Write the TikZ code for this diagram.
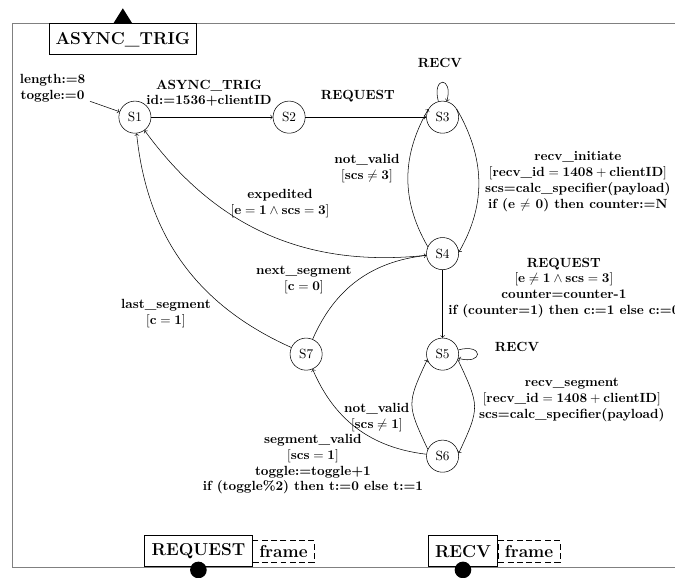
\documentclass[tikz,border=0pt]{standalone}
\begin{document}
\begin{tikzpicture}[
  state/.style={circle,draw,minimum size=0.85cm,inner sep=0pt},
  lbl/.style={font=\bfseries,align=center},
  port/.style={draw,semithick,font=\fontsize{13}{15}\selectfont\bfseries,inner xsep=5pt,minimum height=0.82cm},
  portdata/.style={draw,dash pattern=on 4.5pt off 2.5pt,font=\fontsize{13}{15}\selectfont\bfseries,inner xsep=5pt,minimum height=0.58cm}]
  \useasboundingbox (0,0) rectangle (17.86,15.27);
  \draw[gray,line width=0.6pt] (18.5,14.65) -- (0.34,14.65) -- (0.34,0.26) -- (18.5,0.26);

  \node[port,anchor=north] (trig) at (3.25,14.65) {ASYNC\_TRIG};
  \fill (trig.north) ++(-0.25,0) -- ++(0.5,0) -- ++(-0.25,0.4) -- cycle;
  \node[port,anchor=south] (req) at (5.25,0.26) {REQUEST};
  \node[portdata,anchor=west] (reqdata) at (req.east) {frame};
  \fill ([yshift=-0.07cm]req.south) circle (0.22);
  \node[port,anchor=south] (recv) at (12.25,0.26) {RECV};
  \node[portdata,anchor=west] (recvdata) at (recv.east) {frame};
  \fill ([yshift=-0.07cm]recv.south) circle (0.22);

  \node[state] (S1) at (3.57,12.17) {S1};
  \node[state] (S2) at (7.65,12.17) {S2};
  \node[state] (S3) at (11.71,12.17) {S3};
  \node[state] (S4) at (11.71,8.56) {S4};
  \node[state] (S5) at (11.71,5.90) {S5};
  \node[state] (S6) at (11.71,3.20) {S6};
  \node[state] (S7) at (8.10,5.90) {S7};

  \node[lbl] (init) at (1.39,12.94) {length:=8\\toggle:=0};
  \node[lbl] (l12) at (5.53,12.81) {ASYNC\_TRIG\\[-1pt]id:=1536+clientID};
  \node[lbl] (l23) at (9.47,12.73) {REQUEST};
  \node[lbl] (l33) at (11.64,13.60) {RECV};
  \node[lbl] (l43) at (9.71,10.81) {not\_valid\\$[\mbox{scs} \neq \mbox{3}]$};
  \node[lbl] (l34) at (15.29,10.47) {recv\_initiate\\$[\mbox{recv\_id} = \mbox{1408} + \mbox{clientID}]$\\scs=calc\_specifier(payload)\\if (e $\neq$ 0) then counter:=N};
  \node[lbl] (l41) at (7.41,9.88) {expedited\\$[\mbox{e} = \mbox{1} \wedge \mbox{scs} = \mbox{3}]$};
  \node[lbl] (l74) at (8.04,7.86) {next\_segment\\$[\mbox{c} = \mbox{0}]$};
  \node[lbl] (l71) at (4.39,6.97) {last\_segment\\$[\mbox{c} = \mbox{1}]$};
  \node[lbl] (l45) at (14.92,7.65) {REQUEST\\$[\mbox{e} \neq \mbox{1} \wedge \mbox{scs} = \mbox{3}]$\\counter=counter-1\\if (counter=1) then c:=1 else c:=0};
  \node[lbl] (l55) at (13.68,6.09) {RECV};
  \node[lbl] (l56) at (15.13,4.68) {recv\_segment\\$[\mbox{recv\_id} = \mbox{1408} + \mbox{clientID}]$\\scs=calc\_specifier(payload)};
  \node[lbl] (l65) at (9.97,4.23) {not\_valid\\$[\mbox{scs} \neq \mbox{1}]$};
  \node[lbl] (l67) at (8.28,2.99) {segment\_valid\\$[\mbox{scs} = \mbox{1}]$\\toggle:=toggle+1\\if (toggle\%2) then t:=0 else t:=1};

  \draw[->] (init) -- (S1);
  \draw[->] (S1) -- (S2);
  \draw[->] (S2) -- (S3);
  \draw[->] (S3) to[loop above] (S3);
  \draw[->] (S3.30) to[out=-60,in=60] (S4.5);
  \draw[->] (S4.155) to[out=120,in=-120] (S3.150);
  \draw[->] (S4) to[bend left=30] (S1);
  \draw[->] (S4) -- (S5);
  \draw[->] (S5) to[loop right] (S5);
  \draw[->] (S5.-20) to[out=-65,in=65,looseness=1.4] (S6.10);
  \draw[->] (S6.155) to[out=115,in=-115,looseness=1.4] (S5.200);
  \draw[->] (S6) to[bend left=30] (S7);
  \draw[->] (S7) to[bend left=30] (S4);
  \draw[->] (S7) to[bend left=30] (S1);
\end{tikzpicture}
\end{document}
